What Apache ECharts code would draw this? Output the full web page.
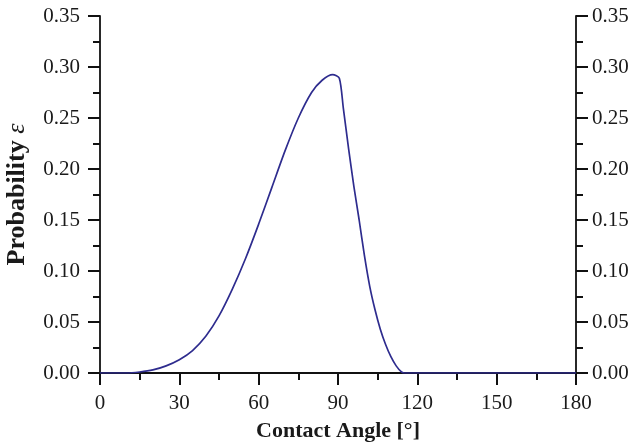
<!DOCTYPE html>
<html>
<head>
<meta charset="utf-8">
<script src="https://cdn.jsdelivr.net/npm/echarts@6/dist/echarts.min.js"></script>
<style>
  html, body { margin: 0; padding: 0; background: #fff; }
  #chart { width: 633px; height: 448px; }
</style>
</head>
<body>
<div id="chart"></div>
<script>
const angles = [0, 5, 10, 15, 20, 25, 30, 35, 40, 45, 50, 55, 60, 65, 70, 75, 80, 84, 88, 90.5,
  92, 94, 96, 98, 100, 102, 104, 106, 108, 110, 112, 114, 115, 120, 150, 180];
const probability = [0, 0, 0, 0.001, 0.003, 0.007, 0.013, 0.022, 0.036, 0.056, 0.082, 0.112, 0.146, 0.182, 0.218, 0.250, 0.275, 0.287, 0.2925, 0.289,
  0.260, 0.220, 0.183, 0.150, 0.115, 0.085, 0.062, 0.043, 0.028, 0.016, 0.007, 0.001, 0, 0, 0, 0];

const xTitle = 'Contact Angle [°]';
const yTitle = 'Probability {e|ε}';

const chart = echarts.init(document.getElementById('chart'));

const serif = 'Liberation Serif';
const axisColor = '#111';

const yAxisBase = {
  type: 'value',
  min: 0,
  max: 0.35,
  interval: 0.05,
  splitLine: { show: false },
  axisLine: { show: true, lineStyle: { color: axisColor, width: 1.8 } },
  axisTick: { show: true, length: 12, lineStyle: { color: axisColor, width: 2 } },
  minorTick: { show: true, splitNumber: 2, length: 7, lineStyle: { color: axisColor, width: 2 } },
  axisLabel: { color: '#1a1a1a', fontFamily: serif, fontSize: 21, formatter: (v) => v.toFixed(2) }
};

chart.setOption({
  animation: false,
  grid: { left: 100, right: 57, top: 16, bottom: 75, outerBoundsMode: 'none' },
  xAxis: {
    type: 'value',
    min: 0,
    max: 180,
    interval: 30,
    name: xTitle,
    nameLocation: 'middle',
    nameGap: 47,
    nameTextStyle: { color: '#1a1a1a', fontFamily: serif, fontSize: 22, fontWeight: 'bold' },
    splitLine: { show: false },
    axisLine: { show: true, onZero: false, lineStyle: { color: axisColor, width: 1.8 } },
    axisTick: { show: true, length: 12, lineStyle: { color: axisColor, width: 2 } },
    minorTick: { show: true, splitNumber: 2, length: 7, lineStyle: { color: axisColor, width: 2 } },
    axisLabel: { color: '#1a1a1a', fontFamily: serif, fontSize: 21, margin: 20 }
  },
  yAxis: [
    Object.assign({}, yAxisBase, {
      position: 'left',
      name: yTitle,
      nameLocation: 'middle',
      nameGap: 70,
      nameTextStyle: {
        color: '#1a1a1a', fontFamily: serif, fontSize: 26, fontWeight: 'bold',
        rich: { e: { fontFamily: serif, fontSize: 26, fontStyle: 'italic', fontWeight: 'normal', color: '#1a1a1a' } }
      },
      axisLabel: Object.assign({}, yAxisBase.axisLabel, { margin: 20 })
    }),
    Object.assign({}, yAxisBase, {
      position: 'right',
      axisLabel: Object.assign({}, yAxisBase.axisLabel, { margin: 16 })
    })
  ],
  series: [{
    type: 'line',
    data: angles.map((a, i) => [a, probability[i]]),
    showSymbol: false,
    smooth: 0.25,
    lineStyle: { color: '#2e2c8e', width: 1.7 }
  }]
});
</script>
</body>
</html>
